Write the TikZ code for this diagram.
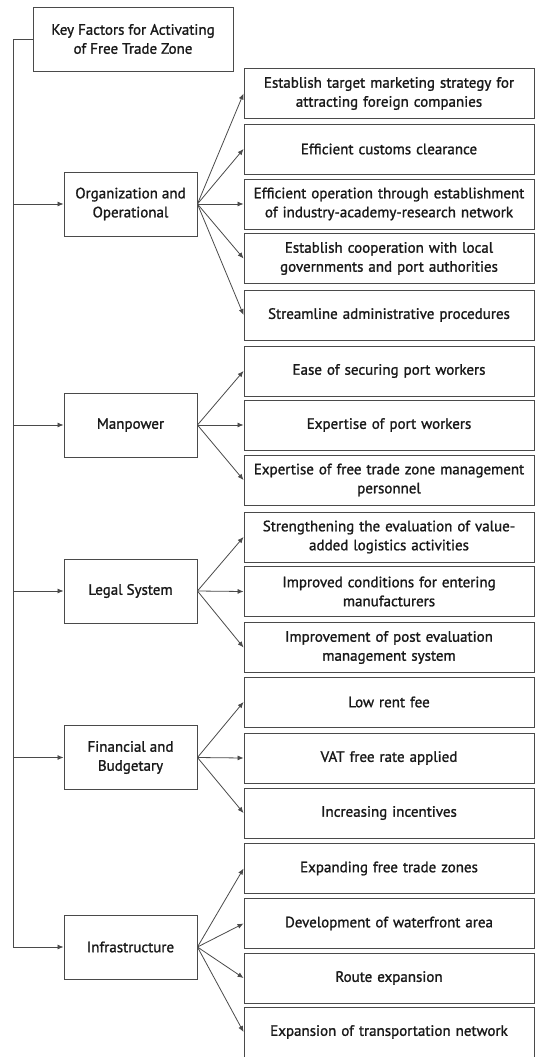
\documentclass[tikz,border=0pt]{standalone}
\usepackage{fontspec}
\setmainfont{PT Sans}[BoldFont={PT Sans}, BoldFeatures={FakeBold=1.3}]
\usetikzlibrary{arrows.meta}
\definecolor{edge}{HTML}{4A4A4A}
\tikzset{
  box/.style={draw=edge, line width=0.9pt, align=center, inner sep=2pt, font=\fontsize{15}{19}\selectfont\bfseries, text=black!90},
  rbox/.style={box, minimum width=290pt, minimum height=50pt, text width=286pt},
  cbox/.style={box, minimum width=133pt, minimum height=64pt},
  arr/.style={draw=edge, line width=0.8pt, -{Latex[length=6pt,width=5pt]}},
  spine/.style={draw=edge, line width=0.8pt}
}
\begin{document}
\begin{tikzpicture}[x=1pt,y=-1pt]
\useasboundingbox (0,0) rectangle (536,1057);
\node[box, minimum width=200pt, minimum height=64pt] (top) at (133,39) {Key Factors for Activating\\of Free Trade Zone};
% categories
\node[cbox] (org) at (130.5,204) {Organization and\\Operational};
\node[cbox] (man) at (130.5,425) {Manpower};
\node[cbox] (leg) at (130.5,591) {Legal System};
\node[cbox] (fin) at (130.5,757.5) {Financial and\\Budgetary};
\node[cbox] (inf) at (130.5,947) {Infrastructure};
% right boxes
\node[rbox] (r1) at (389,93.5) {Establish target marketing strategy for\\attracting foreign companies};
\node[rbox] (r2) at (389,149) {Efficient customs clearance};
\node[rbox] (r3) at (389,204) {Efficient operation through establishment\\of industry-academy-research network};
\node[rbox] (r4) at (389,258.5) {Establish cooperation with local\\governments and port authorities};
\node[rbox] (r5) at (389,315) {Streamline administrative procedures};
\node[rbox] (m1) at (389,371) {Ease of securing port workers};
\node[rbox] (m2) at (389,425) {Expertise of port workers};
\node[rbox] (m3) at (389,480) {Expertise of free trade zone management\\personnel};
\node[rbox] (l1) at (389,537) {Strengthening the evaluation of value-\\added logistics activities};
\node[rbox] (l2) at (389,591.5) {Improved conditions for entering\\manufacturers};
\node[rbox] (l3) at (389,647.5) {Improvement of post evaluation\\management system};
\node[rbox] (f1) at (389,702) {Low rent fee};
\node[rbox] (f2) at (389,758) {VAT free rate applied};
\node[rbox] (f3) at (389,813) {Increasing incentives};
\node[rbox] (i1) at (389,868.5) {Expanding free trade zones};
\node[rbox] (i2) at (389,923.5) {Development of waterfront area};
\node[rbox] (i3) at (389,978) {Route expansion};
\node[rbox] (i4) at (389,1032) {Expansion of transportation network};
% spine
\coordinate (s0) at (13,39);
\coordinate (s1) at (13,204);
\coordinate (s2) at (13,425);
\coordinate (s3) at (13,591);
\coordinate (s4) at (13,757.5);
\coordinate (s5) at (13,947);
\draw[spine] (top.west) -- (s0) -- (s5);
\draw[arr] (s1) -- (org.west);
\draw[arr] (s2) -- (man.west);
\draw[arr] (s3) -- (leg.west);
\draw[arr] (s4) -- (fin.west);
\draw[arr] (s5) -- (inf.west);
% fan-outs
\foreach \t in {r1,r2,r3,r4,r5} \draw[arr] (org.east) -- (\t.west);
\foreach \t in {m1,m2,m3} \draw[arr] (man.east) -- (\t.west);
\foreach \t in {l1,l2,l3} \draw[arr] (leg.east) -- (\t.west);
\foreach \t in {f1,f2,f3} \draw[arr] (fin.east) -- (\t.west);
\foreach \t in {i1,i2,i3,i4} \draw[arr] (inf.east) -- (\t.west);
\end{tikzpicture}
\end{document}
